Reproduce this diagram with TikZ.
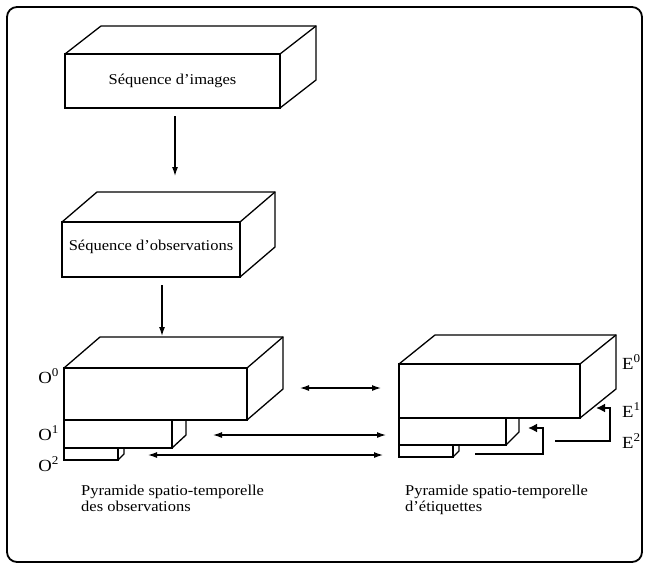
\documentclass[tikz,border=0pt]{standalone}
\usepackage{fontspec}
\setmainfont{Liberation Serif}[FakeStretch=1.1]
\usetikzlibrary{arrows.meta,calc}
\newcommand\cubdepth[3]{%
  \draw[boxline] (#1.north west) -- ++(#2,#3) -- ($(#1.north east)+(#2,#3)$) -- ($(#1.south east)+(#2,#3)$) -- (#1.south east);
  \draw[boxline] (#1.north east) -- ++(#2,#3);}
\newcommand\sidedepth[3]{%
  \draw[boxline] (#1.south east) -- ++(#2,#3) -- ($(#1.north east)+(#2,0)$);}
\begin{document}
\begin{tikzpicture}[x=1pt,y=-1pt,
  boxline/.style={line width=1.3pt,line join=miter},
  face/.style={draw,line width=1.3pt,inner sep=0pt,outer sep=0pt,font=\fontsize{15}{16}\selectfont},
  arr/.style={line width=1.2pt,-{Latex[length=9pt,width=6pt]}},
  darr/.style={line width=1.2pt,{Latex[length=9pt,width=6pt]}-{Latex[length=9pt,width=6pt]}},
  fb/.style={line width=2.6pt,-{Latex[length=9pt,width=9pt]}},
  lab/.style={font=\fontsize{17}{18}\selectfont,inner sep=0pt},
  capt/.style={font=\fontsize{15}{16}\selectfont,align=left,inner sep=0pt}]
\useasboundingbox (0,0) rectangle (646,568);
\draw[line width=1.8pt,rounded corners=10pt] (7,7) rectangle (642,562);

% boxes
\node[face,minimum width=215pt,minimum height=54pt] (img) at (172.5,81) {Séquence d'images};
\cubdepth{img}{36}{-28}
\node[face,minimum width=178pt,minimum height=55pt,text depth=9pt] (obs) at (151,249.5) {Séquence d'observations};
\cubdepth{obs}{35}{-30}

\node[face,minimum width=183pt,minimum height=52pt] (o0) at (155.5,394) {};
\cubdepth{o0}{36}{-31}
\node[face,minimum width=108pt,minimum height=28pt] (o1) at (118,434) {};
\sidedepth{o1}{14}{-13}
\node[face,minimum width=54pt,minimum height=12pt] (o2) at (91,454) {};
\sidedepth{o2}{6}{-6}

\node[face,minimum width=181pt,minimum height=54pt] (e0) at (489.5,391) {};
\cubdepth{e0}{36}{-29}
\node[face,minimum width=107pt,minimum height=27pt] (e1) at (452.5,431.5) {};
\sidedepth{e1}{13}{-13}
\node[face,minimum width=54pt,minimum height=12pt] (e2) at (426,451) {};
\sidedepth{e2}{6}{-6}

% level labels
\node[lab,anchor=base east] (lo0) at (59,383) {O\textsuperscript{0}};
\node[lab,anchor=base east] (lo1) at (59,440) {O\textsuperscript{1}};
\node[lab,anchor=base east] (lo2) at (59,471) {O\textsuperscript{2}};
\node[lab,anchor=base west] (le0) at (622,369) {E\textsuperscript{0}};
\node[lab,anchor=base west] (le1) at (622,417) {E\textsuperscript{1}};
\node[lab,anchor=base west] (le2) at (622,448) {E\textsuperscript{2}};

% captions
\node[capt,anchor=north west] (co) at (81,485) {Pyramide spatio-temporelle\\des observations};
\node[capt,anchor=north west] (ce) at (405,485) {Pyramide spatio-temporelle\\d'étiquettes};

% vertical arrows
\coordinate (a1s) at (175,116);
\coordinate (a1e) at (175,176);
\draw[arr] (a1s) -- (a1e);
\coordinate (a2s) at (162,285);
\coordinate (a2e) at (162,336);
\draw[arr] (a2s) -- (a2e);

% horizontal arrows
\coordinate (h0l) at (300,388); \coordinate (h0r) at (381,388);
\draw[darr] (h0l) -- (h0r);
\coordinate (h1l) at (213,435); \coordinate (h1r) at (386,435);
\draw[darr] (h1l) -- (h1r);
\coordinate (h2l) at (148,455); \coordinate (h2r) at (383,455);
\draw[darr] (h2l) -- (h2r);

% feedback arrows
\coordinate (f1s) at (475,454); \coordinate (f1c) at (543,428); \coordinate (f1e) at (528,428);
\draw[fb] (f1s) -| (f1c) -- (f1e);
\coordinate (f2s) at (555,441); \coordinate (f2c) at (610,408); \coordinate (f2e) at (596,408);
\draw[fb] (f2s) -| (f2c) -- (f2e);
\end{tikzpicture}
\end{document}
